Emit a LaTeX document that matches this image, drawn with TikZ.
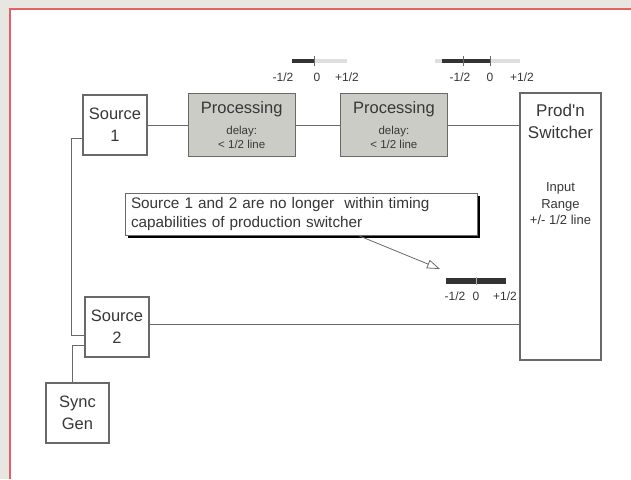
\documentclass[tikz,border=0pt]{standalone}
\usepackage{fontspec}
\setmainfont{Liberation Sans}
\usetikzlibrary{arrows.meta,positioning,calc,shadows}

\definecolor{ink}{RGB}{55,55,55}
\definecolor{edge}{RGB}{105,105,105}
\definecolor{procfill}{RGB}{204,204,198}
\definecolor{framered}{RGB}{226,96,102}
\definecolor{paper}{RGB}{232,230,224}

\begin{document}
\begin{tikzpicture}[
  x=1pt,y=-1pt,
  every node/.style={align=center,text=ink,inner sep=0pt},
  box/.style={rectangle,draw=edge,line width=1.2pt,fill=white,minimum width=64pt,minimum height=60pt,font=\fontsize{16.5}{22}\selectfont},
  proc/.style={box,fill=procfill,minimum width=107pt,minimum height=63pt,font=\fontsize{11.5}{14}\selectfont},
  note/.style={rectangle,draw=edge,line width=0.8pt,fill=white,align=left,text width=340pt,inner xsep=6pt,minimum height=42pt,
    font=\fontsize{15.3}{19}\selectfont,drop shadow={shadow xshift=3pt,shadow yshift=-3pt,fill=black,opacity=1}},
  wire/.style={draw=edge,line width=0.8pt},
  scaletxt/.style={font=\fontsize{12}{14}\selectfont},
  darkbar/.style={draw=black!80,line width=4.5pt},
  lightbar/.style={draw=gray!25,line width=4pt}
]
\useasboundingbox (0,0) rectangle (631,479);
% paper with red frame
\fill[paper] (0,0) rectangle (631,479);
\fill[white] (10,9) rectangle (631,479);
\draw[framered,line width=1.4pt] (10,479) -- (10,9) -- (631,9);

% boxes
\node[box] (src1) at (115,125) {Source\\1};
\node[proc,right=40pt of src1] (proc1) {{\fontsize{16.5}{20}\selectfont Processing}\\[7pt]delay:\\< 1/2 line};
\node[proc,right=44pt of proc1] (proc2) {{\fontsize{16.5}{20}\selectfont Processing}\\[7pt]delay:\\< 1/2 line};
\node[box,minimum width=81pt,minimum height=267pt] (sw) at (560.5,226.5) {};
\node[font=\fontsize{17}{22}\selectfont,below=12pt of sw.north] (swname) {Prod\textquotesingle n\\Switcher};
\node[font=\fontsize{13}{16.5}\selectfont] (swrange) at (560.5,204) {Input\\Range\\+/- 1/2 line};
\node[box] (src2) at (117,327) {Source\\2};
\node[box,minimum width=63pt] (sync) at (77.5,413) {Sync\\Gen};

% signal paths
\draw[wire] (src1) -- (proc1);
\draw[wire] (proc1) -- (proc2);
\draw[wire] (proc2.east) -- (proc2.east -| sw.west);
\draw[wire] ([yshift=3pt]src2.east) -- ([yshift=3pt]src2.east -| sw.west);
\draw[wire] ([yshift=-13pt]src1.west) -- ++(-11,0) |- ([yshift=-8pt]src2.west);
\draw[wire] ([xshift=-5.5pt]sync.north) |- ([yshift=-18pt]src2.west);

% timing scale after first processing
\draw[lightbar] (314,61) -- (347,61);
\draw[darkbar] (292,61) -- (314,61);
\draw[edge,line width=1pt] (314,56) -- (314,66);
\node[scaletxt] (s1a) at (283,77) {-1/2};
\node[scaletxt] (s1b) at (317,77) {0};
\node[scaletxt] (s1c) at (347,77) {+1/2};

% timing scale after second processing
\draw[lightbar] (435,61) -- (520,61);
\draw[darkbar] (442,61) -- (490,61);
\draw[edge,line width=1pt] (463,56) -- (463,66);
\draw[edge,line width=1pt] (490,56) -- (490,66);
\node[scaletxt] (s2a) at (460,77) {-1/2};
\node[scaletxt] (s2b) at (490,77) {0};
\node[scaletxt] (s2c) at (522,77) {+1/2};

% timing scale at switcher input
\draw[darkbar,line width=6pt] (446,281) -- (506,281);
\draw[gray!60,line width=0.8pt] (476,277) -- (476,285);
\node[scaletxt] (s3a) at (455,296) {-1/2};
\node[scaletxt] (s3b) at (476,296) {0};
\node[scaletxt] (s3c) at (505,296) {+1/2};

% callout
\node[note] (note) at (301,214) {Source 1 and 2 are no longer\ \ within timing\\capabilities of production switcher};
\coordinate (tip) at (440,269);
\draw[wire,-{Triangle[open,length=13pt,width=9pt]}] ([xshift=57pt]note.south) -- (tip);
\end{tikzpicture}
\end{document}
